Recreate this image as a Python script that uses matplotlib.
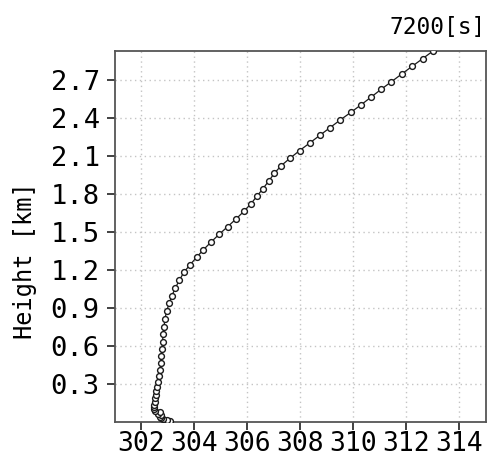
import matplotlib
matplotlib.use("Agg")
import matplotlib.pyplot as plt

# Height [km]
height_km = [0.012, 0.018, 0.024, 0.031, 0.042, 0.054, 0.068, 0.082, 0.093, 0.103,
             0.119, 0.140, 0.164, 0.190, 0.219, 0.250, 0.282, 0.321, 0.366, 0.413,
             0.465, 0.523, 0.578, 0.636, 0.694, 0.754, 0.817, 0.877, 0.938, 0.998,
             1.059, 1.119, 1.182, 1.240, 1.300, 1.360, 1.421, 1.481, 1.541, 1.602,
             1.663, 1.724, 1.784, 1.842, 1.902, 1.963, 2.023, 2.081, 2.141, 2.202,
             2.262, 2.322, 2.383, 2.443, 2.503, 2.564, 2.624, 2.684, 2.745, 2.805,
             2.866, 2.926]
# Potential temperature [K]
theta = [303.08, 302.95, 302.82, 302.74, 302.70, 302.72, 302.62, 302.70, 302.50, 302.48,
         302.48, 302.49, 302.50, 302.51, 302.54, 302.56, 302.60, 302.64, 302.66, 302.70,
         302.73, 302.74, 302.77, 302.80, 302.81, 302.85, 302.89, 302.95, 303.05, 303.15,
         303.28, 303.43, 303.60, 303.83, 304.08, 304.34, 304.63, 304.93, 305.25, 305.57,
         305.87, 306.14, 306.37, 306.59, 306.81, 307.02, 307.28, 307.61, 307.97, 308.36,
         308.74, 309.12, 309.51, 309.91, 310.30, 310.68, 311.05, 311.44, 311.83, 312.22,
         312.62, 313.01]

x_ticks = [302, 304, 306, 308, 310, 312, 314]
y_ticks = [0.3, 0.6, 0.9, 1.2, 1.5, 1.8, 2.1, 2.4, 2.7]
y_tick_labels = ["0.3", "0.6", "0.9", "1.2", "1.5", "1.8", "2.1", "2.4", "2.7"]
title_text = "7200[s]"
ylabel_text = "Height [km]"

mono = "DejaVu Sans Mono"

fig = plt.figure(figsize=(4.92, 4.57), dpi=100)
ax = fig.add_axes([0.2337, 0.0759, 0.7535, 0.8125])

ax.plot(theta, height_km, color="#1a1a1a", lw=0.9, marker="o", ms=4.2,
        mfc="white", mec="#1a1a1a", mew=1.0, clip_on=True, zorder=3)

ax.set_xlim(301, 315)
ax.set_ylim(0, height_km[-1])
ax.set_xticks(x_ticks)
ax.set_xticklabels([str(v) for v in x_ticks], fontfamily=mono, fontsize=19)
ax.set_yticks(y_ticks)
ax.set_yticklabels(y_tick_labels, fontfamily=mono, fontsize=19.5)

ax.grid(True, color="#c4c4c4", linestyle=(0, (1, 2.5)), lw=1.0)
for s in ax.spines.values():
    s.set_color("#555555")
    s.set_linewidth(1.3)
ax.tick_params(direction="out", length=6, width=1.3, color="#333333")
ax.tick_params(axis="x", pad=0)
ax.tick_params(axis="y", pad=5)

ax.set_title(title_text, loc="right", fontfamily=mono, fontsize=16.5, pad=12)
ax.set_ylabel(ylabel_text, fontfamily=mono, fontsize=17)
ax.yaxis.set_label_coords(-0.21, 0.435)

fig.savefig("out.png", dpi=100)
